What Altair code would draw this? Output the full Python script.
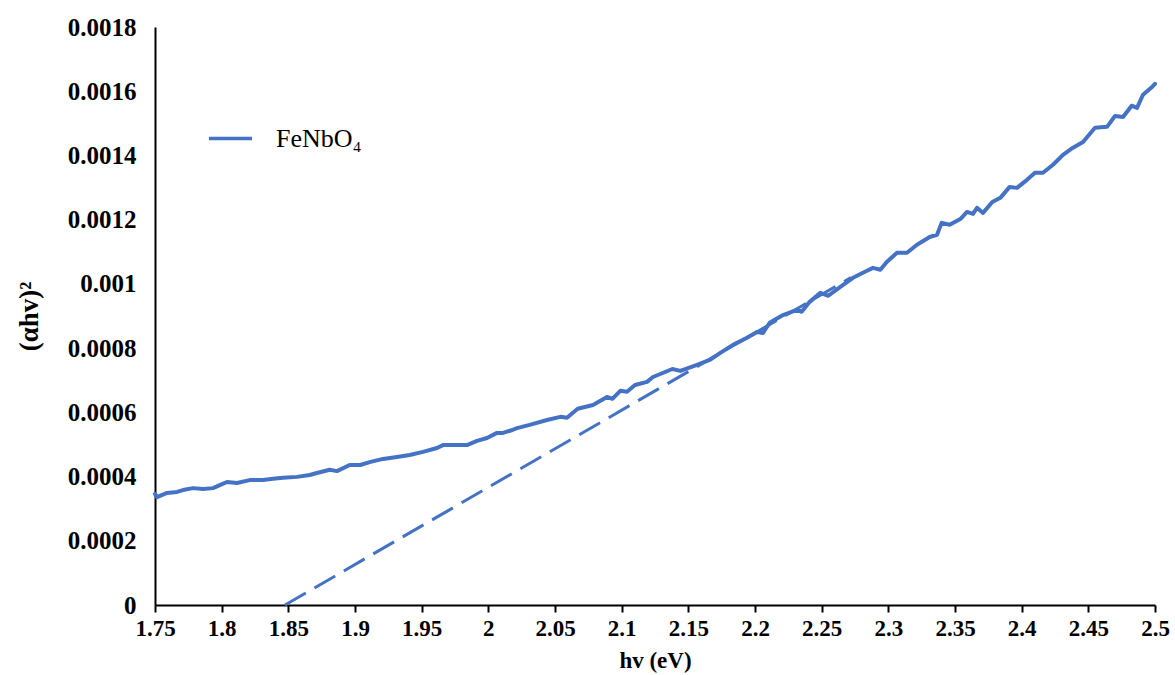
import altair as alt
import pandas as pd

# photon energy (eV) and (alpha h nu)^2
hv = [1.750, 1.7515, 1.759, 1.7665, 1.771, 1.7785, 1.786, 1.7935, 1.799, 1.804,
      1.8115, 1.821, 1.831, 1.8385, 1.846, 1.8565, 1.866, 1.8715, 1.881, 1.8865,
      1.896, 1.904, 1.911, 1.921, 1.9315, 1.941, 1.951, 1.9615, 1.966, 1.9735,
      1.984, 1.9915, 1.999, 2.0065, 2.011, 2.018, 2.0215, 2.031, 2.044, 2.054,
      2.059, 2.067, 2.0785, 2.089, 2.093, 2.099, 2.104, 2.110, 2.119, 2.1235,
      2.138, 2.144, 2.1565, 2.166, 2.174, 2.1835, 2.194, 2.2015, 2.206, 2.211,
      2.221, 2.2315, 2.235, 2.241, 2.249, 2.255, 2.264, 2.2735, 2.284, 2.2885,
      2.294, 2.299, 2.3065, 2.314, 2.3215, 2.331, 2.3365, 2.340, 2.346, 2.354,
      2.359, 2.3635, 2.3665, 2.371, 2.378, 2.384, 2.391, 2.3965, 2.404, 2.410,
      2.416, 2.4235, 2.431, 2.4385, 2.446, 2.455, 2.464, 2.470, 2.476, 2.4825,
      2.4865, 2.491, 2.498, 2.500]
ahv2 = [0.000346, 0.000336, 0.000349, 0.000352, 0.000358, 0.000364, 0.000361, 0.000364, 0.000374, 0.000383,
        0.000380, 0.000389, 0.000389, 0.000393, 0.000396, 0.000399, 0.000405, 0.000411, 0.000421, 0.000417,
        0.000436, 0.000436, 0.000445, 0.000455, 0.000461, 0.000467, 0.000477, 0.000489, 0.000498, 0.000498,
        0.000498, 0.000511, 0.000520, 0.000536, 0.000536, 0.000545, 0.000551, 0.000561, 0.000576, 0.000586,
        0.000583, 0.000611, 0.000623, 0.000648, 0.000642, 0.000667, 0.000664, 0.000685, 0.000695, 0.000710,
        0.000735, 0.000729, 0.000748, 0.000763, 0.000785, 0.000810, 0.000832, 0.000850, 0.000847, 0.000879,
        0.000903, 0.000919, 0.000913, 0.000944, 0.000972, 0.000963, 0.000991, 0.001019, 0.001041, 0.001050,
        0.001044, 0.001069, 0.001097, 0.001097, 0.001122, 0.001146, 0.001153, 0.001190, 0.001184, 0.001202,
        0.001224, 0.001218, 0.001237, 0.001221, 0.001255, 0.001268, 0.001302, 0.001299, 0.001324, 0.001346,
        0.001346, 0.001371, 0.001402, 0.001424, 0.001442, 0.001486, 0.001489, 0.001523, 0.001520, 0.001555,
        0.001548, 0.001589, 0.001614, 0.001623]
series_name = "FeNbO\u2084"

# linear extrapolation (Tauc tangent)
tan_hv = [1.8475, 2.272]
tan_y = [0.0, 0.00102]

x_ticks = [1.75, 1.8, 1.85, 1.9, 1.95, 2.0, 2.05, 2.1, 2.15, 2.2, 2.25, 2.3, 2.35, 2.4, 2.45, 2.5]
y_ticks = [0, 0.0002, 0.0004, 0.0006, 0.0008, 0.001, 0.0012, 0.0014, 0.0016, 0.0018]

BLUE = "#4472C4"
FONT = "Liberation Serif"

df = pd.DataFrame({"hv": hv, "y": ahv2, "series": [series_name] * len(hv)})
df_tan = pd.DataFrame({"hv": tan_hv, "y": tan_y})

x_enc = alt.X("hv:Q",
              scale=alt.Scale(domain=[1.75, 2.5], nice=False, zero=False),
              axis=alt.Axis(values=x_ticks, format="~g", title="hv (eV)",
                            labelFont=FONT, labelFontWeight="bold", labelFontSize=23,
                            labelColor="black", tickColor="black", tickWidth=2, tickSize=7,
                            domainColor="black", domainWidth=2, grid=False, labelPadding=5,
                            titleFont=FONT, titleFontWeight="bold", titleFontSize=23,
                            titleColor="black", titlePadding=9, labelFlush=False))
y_enc = alt.Y("y:Q",
              scale=alt.Scale(domain=[0, 0.0018], nice=False, zero=True),
              axis=alt.Axis(values=y_ticks, format="~g", title="(\u03b1hv)\u00b2",
                            labelFont=FONT, labelFontWeight="bold", labelFontSize=25,
                            labelColor="black", ticks=False, domainColor="black",
                            domainWidth=2, grid=False, labelPadding=19,
                            titleFont=FONT, titleFontWeight="bold", titleFontSize=27,
                            titleColor="black", titlePadding=24, labelFlush=False))

curve = alt.Chart(df).mark_line(strokeWidth=4, strokeJoin="round", strokeCap="round").encode(
    x=x_enc, y=y_enc,
    color=alt.Color("series:N", scale=alt.Scale(range=[BLUE]),
                    legend=alt.Legend(title=None, orient="none", legendX=52, legendY=88,
                                      symbolType="stroke", symbolSize=1849,
                                      symbolStrokeWidth=3.5, symbolStrokeColor=BLUE,
                                      labelFont=FONT, labelFontSize=26, labelColor="black",
                                      labelOffset=22, padding=0)),
    order="hv:Q",
)

tangent = alt.Chart(df_tan).mark_line(strokeWidth=3, strokeDash=[24, 10], color=BLUE).encode(
    x="hv:Q", y="y:Q"
)

chart = alt.layer(curve, tangent).properties(
    width=1000, height=578,
    autosize=alt.AutoSizeParams(type="none"),
    padding={"left": 155, "top": 27, "right": 20, "bottom": 70},
    background="white",
).configure_view(strokeWidth=0)

chart.save("out.html", embed_options={"renderer": "svg", "actions": False})
